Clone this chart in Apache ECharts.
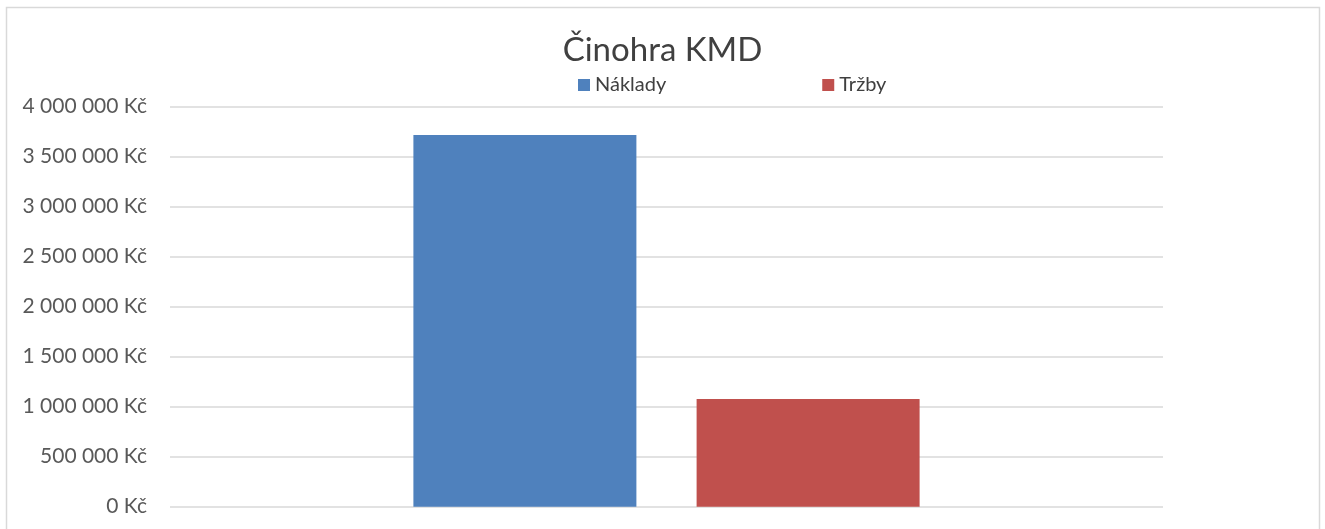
<!DOCTYPE html>
<html>
<head>
<meta charset="utf-8">
<script src="https://cdn.jsdelivr.net/npm/echarts@6/dist/echarts.min.js"></script>
<style>
    html, body { margin: 0; padding: 0; background: #fff; }
    #chart { width: 1325px; height: 529px; }
</style>
</head>
<body>
<div id="chart"></div>
<script>
/** data */
const CATEGORIES = [""]
const NAKLADY = [3717000]
const TRZBY = [1077000]
const SERIES_NAMES = ["Náklady", "Tržby"]
const Y_TICKS = [0, 500000, 1000000, 1500000, 2000000, 2500000, 3000000, 3500000, 4000000]

const FONT = "Lato"

/** 4000000 -> "4 000 000 Kč" */
function formatKc(value) {
    return String(value).replace(/\B(?=(\d{3})+(?!\d))/g, " ") + " Kč"
}

function getOption() {
    return {
        animation: false,
        title: {
            text: "Činohra KMD",
            left: "center",
            top: 29,
            textStyle: { fontFamily: FONT, fontSize: 33, fontWeight: "normal", color: "#404040" }
        },
        legend: {
            data: SERIES_NAMES,
            left: 578,
            top: 75,
            padding: 0,
            itemWidth: 12,
            itemHeight: 12,
            itemGap: 156,
            icon: "rect",
            textStyle: { fontFamily: FONT, fontSize: 20, color: "#404040" }
        },
        grid: { left: 170, right: 162, top: 106.7, bottom: 22.3, containLabel: false },
        xAxis: {
            type: "category",
            data: CATEGORIES,
            axisLine: { show: false },
            axisTick: { show: false },
            axisLabel: { show: false }
        },
        yAxis: {
            type: "value",
            min: Y_TICKS[0],
            max: Y_TICKS[Y_TICKS.length - 1],
            interval: Y_TICKS[1] - Y_TICKS[0],
            axisLine: { show: false },
            axisTick: { show: false },
            splitLine: { lineStyle: { color: "#d9d9d9", width: 1.5 } },
            axisLabel: {
                formatter: formatKc,
                margin: 23,
                fontFamily: FONT,
                fontSize: 21,
                color: "#595959"
            }
        },
        series: [
            {
                name: SERIES_NAMES[0],
                type: "bar",
                data: NAKLADY,
                barWidth: 223,
                barGap: "27%",
                itemStyle: { color: "#4F81BD" }
            },
            {
                name: SERIES_NAMES[1],
                type: "bar",
                data: TRZBY,
                barWidth: 223,
                itemStyle: { color: "#C0504D" }
            }
        ],
        graphic: [{
            type: "rect",
            silent: true,
            shape: { x: 6.5, y: 7.5, width: 1313, height: 600 },
            style: { fill: "none", stroke: "#d9d9d9", lineWidth: 1.5 }
        }]
    }
}

let chart = echarts.init(document.getElementById("chart"))
chart.setOption(getOption())
</script>
</body>
</html>
